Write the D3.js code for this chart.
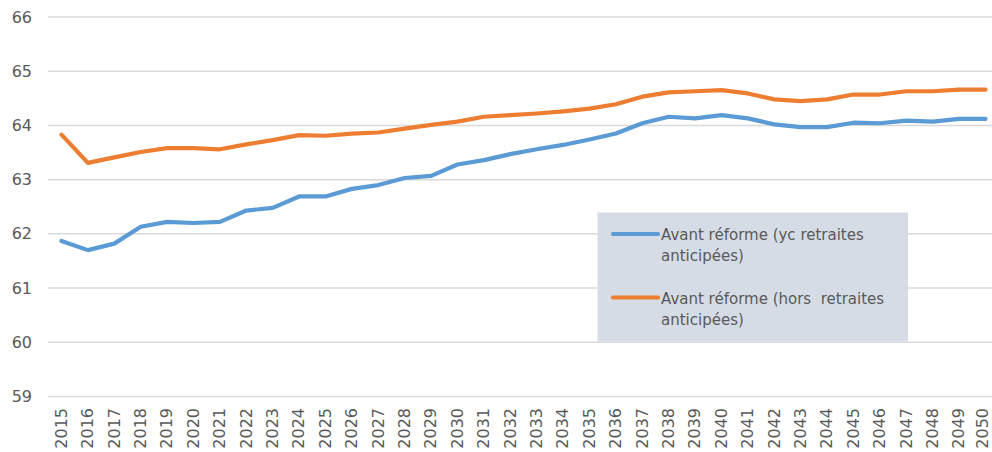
<!DOCTYPE html>
<html>
<head>
<meta charset="utf-8">
<script src="https://cdn.jsdelivr.net/npm/d3@7"></script>
<style>
  html, body { margin: 0; padding: 0; background: #fff; }
  svg { display: block; }
  text { font-family: "DejaVu Sans", sans-serif; fill: #595959; white-space: pre; }
</style>
</head>
<body>
<svg id="chart" width="992" height="452"></svg>
<script>
const years = d3.range(2015, 2051).map(String);
const yTicks = [59, 60, 61, 62, 63, 64, 65, 66];
const seriesNames = ["Avant réforme (yc retraites anticipées)", "Avant réforme (hors  retraites anticipées)"];
const seriesLegendLines = [["Avant réforme (yc retraites", "anticipées)"], ["Avant réforme (hors  retraites", "anticipées)"]];
const seriesColors = ["#5B9BD5", "#ED7D31"];
const avantYc = [61.87, 61.70, 61.82, 62.13, 62.22, 62.20, 62.22, 62.43, 62.48, 62.69,
                 62.69, 62.83, 62.90, 63.03, 63.07, 63.28, 63.36, 63.47, 63.56, 63.64,
                 63.74, 63.85, 64.04, 64.16, 64.13, 64.19, 64.13, 64.02, 63.97, 63.97,
                 64.05, 64.04, 64.09, 64.07, 64.12, 64.12];
const avantHors = [63.83, 63.31, 63.41, 63.51, 63.58, 63.58, 63.56, 63.65, 63.73, 63.82,
                   63.81, 63.85, 63.87, 63.94, 64.01, 64.07, 64.16, 64.19, 64.22, 64.26,
                   64.31, 64.39, 64.53, 64.61, 64.63, 64.65, 64.59, 64.48, 64.45, 64.48,
                   64.57, 64.57, 64.63, 64.63, 64.66, 64.66];
const seriesData = [avantYc, avantHors];

const svg = d3.select("#chart");
const x = d3.scalePoint().domain(years).range([61.5, 985.5]);
const y = d3.scaleLinear().domain([59, 66]).range([396.5, 17]);
const gridLeft = 48, gridRight = 992;

// gridlines
svg.append("g").selectAll("line").data(yTicks).join("line")
  .attr("x1", gridLeft).attr("x2", gridRight)
  .attr("y1", d => y(d)).attr("y2", d => y(d))
  .attr("stroke", "#D9D9D9").attr("stroke-width", 1.5);

// y axis labels
const yAxis = d3.axisLeft(y).tickValues(yTicks).tickSize(0).tickPadding(0).tickFormat(d3.format("d"));
const gy = svg.append("g").attr("transform", "translate(32,0)").call(yAxis);
gy.select(".domain").remove();
gy.selectAll("text").attr("font-size", 16).attr("fill", "#595959")
  .style("font-family", "'DejaVu Sans', sans-serif");

// x axis labels (rotated)
const xAxis = d3.axisBottom(x).tickSize(0).tickPadding(0);
const gx = svg.append("g").attr("transform", "translate(0,408)").call(xAxis);
gx.select(".domain").remove();
const lastYear = years[years.length - 1];
gx.selectAll("text")
  .attr("font-size", 16).attr("fill", "#595959")
  .style("font-family", "'DejaVu Sans', sans-serif")
  .attr("transform", "rotate(-90)")
  .attr("text-anchor", "end")
  .attr("x", 0).attr("y", d => d === lastYear ? -2.5 : 0).attr("dy", "0.3em");

// lines
const line = d3.line().x((d, i) => x(years[i])).y(d => y(d));
seriesData.forEach((data, k) => {
  svg.append("path").datum(data)
    .attr("d", line)
    .attr("fill", "none")
    .attr("stroke", seriesColors[k])
    .attr("stroke-width", 4.2)
    .attr("stroke-linejoin", "round")
    .attr("stroke-linecap", "round");
});

// legend
const lg = svg.append("g");
lg.append("rect").attr("x", 597.5).attr("y", 212.5).attr("width", 310.5).attr("height", 129)
  .attr("fill", "#D6DCE5");
const legendY = [234, 297.5];
seriesNames.forEach((name, k) => {
  lg.append("line").attr("x1", 613).attr("x2", 658).attr("y1", legendY[k]).attr("y2", legendY[k])
    .attr("stroke", seriesColors[k]).attr("stroke-width", 4.2).attr("stroke-linecap", "round");
  const t = lg.append("text").attr("x", 661).attr("y", legendY[k] + 6)
    .attr("font-size", 15).attr("fill", "#595959");
  seriesLegendLines[k].forEach((s, j) => {
    t.append("tspan").attr("x", 661).attr("dy", j === 0 ? 0 : 21).text(s);
  });
});
</script>
</body>
</html>
